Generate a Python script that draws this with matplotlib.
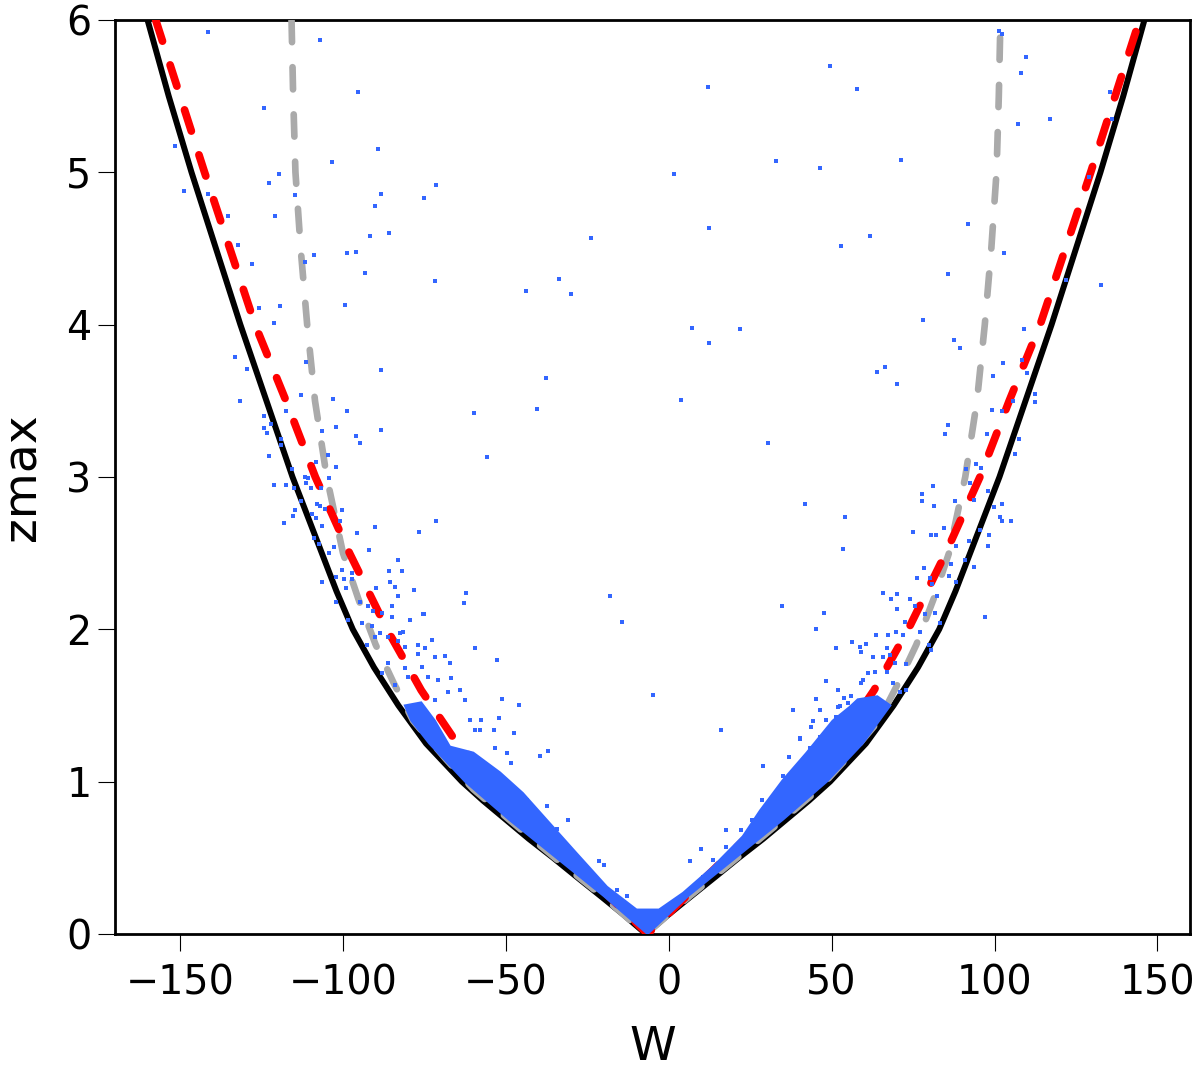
import matplotlib
matplotlib.use("Agg")
import matplotlib.pyplot as plt

plt.rcParams['font.family'] = ['DejaVu Sans']
plt.rcParams['lines.scale_dashes'] = False

# boundary curves (both branches listed from the top down to the cusp)
black_z = [6.0, 5.5, 5.0, 4.5, 4.0, 3.75, 3.5, 3.25, 3.0, 2.75, 2.5, 2.25, 2.0, 1.75, 1.5,
           1.25, 1.125, 1.0, 0.875, 0.75, 0.625, 0.5, 0.375, 0.25, 0.125, 0.0]
black_w_left = [-160, -153.5, -146.5, -139, -131.5, -127.5, -123.5, -119.5, -115.5, -111, -106.5,
                -102, -97, -90.5, -83, -74.5, -69, -63.5, -57, -50, -43, -35.5, -28.3, -21, -13.8, -7]
black_w_right = [146, 139.5, 132.5, 125, 117.5, 113.5, 109.5, 105.5, 101.5, 97, 92.5,
                 88, 83, 76.5, 69, 60.5, 55, 49.5, 43, 36, 29, 21.5, 14.3, 7, -0.2, -7]

red_z = [6.0, 5.0, 4.0, 3.5, 3.0, 2.5, 2.0, 1.6, 1.3, 1.0, 0.75, 0.5, 0.25, 0.0]
red_w_left = [-157.5, -142.5, -127, -117.5, -108.5, -98, -86.5, -76, -66.5, -54, -42.5, -30.5, -18.5, -6.5]
red_w_right = [144.5, 129.5, 114, 104.5, 95.5, 85, 73.5, 63, 53.5, 41, 29.5, 17.5, 5.5, -6.5]

gray_z = [6.0, 5.5, 5.0, 4.5, 4.0, 3.5, 3.0, 2.5, 2.2, 1.9, 1.65, 1.4, 1.15, 0.95, 0.75, 0.5, 0.25, 0.0]
gray_w_left = [-115.8, -115.3, -114.6, -113, -111, -108.6, -105, -100, -95.3, -90, -84.5, -78.5, -68.5, -60, -49, -35, -20.5, -7]
gray_w_right = [101.8, 101.3, 100.6, 99, 97, 94.6, 91, 86, 81.3, 76, 70.5, 64.5, 54.5, 46, 35, 21, 6.5, -7]

# outline of the densely packed part of the sample near the cusp
band_w = [-6.5, -20, -34.5, -49, -62.5, -73.5, -79, -81, -76, -71.8, -67.2, -60, -51.8, -44.8,
          -37.5, -28.3, -19, -9.9, -3, 4.4, 13.5, 22.7, 28, 35, 42.3, 50.3, 55.5, 58, 64, 68,
          59.5, 48.5, 35, 20.5, 6, -6.5]
band_z = [0.0, 0.25, 0.5, 0.75, 1.0, 1.25, 1.4, 1.5, 1.52, 1.40, 1.23, 1.19, 1.06, 0.925,
          0.75, 0.53, 0.31, 0.16, 0.16, 0.27, 0.44, 0.64, 0.81, 1.01, 1.19, 1.40, 1.49, 1.54, 1.56, 1.5,
          1.25, 1.0, 0.75, 0.5, 0.25, 0.0]

# individual stars outside the dense band
star_w = [
    # upper left
    -141.5, -107, -95.3, -124.4, -151.5, -89.2, -103.3, -119.5, -122.7, -148.7, -141.3, -114.6,
    -88.3, -90.2, -135.4, -120.8, -85.9, -91.6, -132.1, -108.9, -111.6, -98.7, -96, -127.8,
    -93.1, -125.9, -119.3, -99.5, -121.3,
    # upper middle
    49.4, 12, 33, 46.5, 1.5, -71.6, -75.2, 12.3, -24, 52.8, -71.7, -33.6, -43.8, -29.9, 7, 21.9,
    12.3, -37.6, -59.8, -40.6, 3.8, -55.8, 30.6, 41.9, 54, 53.4, -71.6, -76.7, -81.9, -78.3,
    -62.1, -62.8, -75.2, -17.9, 34.6, 47.5,
    # upper right
    57.9, 71.2, 61.9, 91.7, 102.9, 85.7, 78, 87.5, 108.9, 101.3, 102.4, 109.8, 108.2, 107.2,
    117, 135.3, 136.1, 129, 122, 132.8,
    # middle right
    89.4, 63.9, 66.5, 70.1, 102.7, 108.5, 109.9, 99.6, 112.5, 112.4, 105.8, 99.3, 102.2, 85.8,
    84.7, 97.8, 107.5, 106.2, 94.2, 91.2, 95.8, 92.5, 81, 77.7, 77.8, 81.4, 87.9, 93.8, 97.9,
    99.8, 102.4, 101.8, 102.4, 104.9, 75.1, 80.6, 82, 84.6, 92.1, 95.4, 98.2, 98.1, 93.8, 91,
    88.1, 86.5, 78.3, 76.2, 80.2, 80.8, 85.9, 88.2, 65.6, 68.2, 70.2, 74.1, 82.4, 70.2, 75.5,
    97.1, 72.6, 77.2, 78.5, 81.6, 83.2, 63.5, 60.6, 56.2, 67.2, 69.6, 71.9,
    # lower right
    58.6, 59.1, 62.7, 67, 65.7, 67.8, 80.6, 79.8, 61.2, 63.2, 67, 69.5, 72.9, 58.9, 59.6, 68.8,
    72.9, 70.9, 53.8, 56, 46.3, 52.5, 55, 64.7, 62.2, 44.3, 48.4, 51.4, 40.2,
    # middle left
    -133.3, -129.5, -131.6, -111.4, -88.4, -112.9, -103.1, -98.8, -117.4, -102.1, -88.2, -124.2,
    -122.2, -124.4, -123.3, -106.6, -118.9, -119.1, -95.9, -94.7, -122.6, -104.6, -108.4, -102,
    -115.7, -111.8, -110.6, -111.4, -104.2, -121.3, -117.6, -115, -109.8, -106.8, -113, -108.1,
    -107.1, -105.6, -100.3, -114.7, -118.2, -115.3, -109.4, -108.2, -106.5, -100.8, -90.3, -95.6,
    -109, -107.4, -104.2, -102.9, -92, -83, -85.9, -106.3, -102, -100.4, -99.8, -97.3, -99, -97.3,
    -89.9, -85.7, -84, -83, -102.1, -98.4, -94.8, -92.2, -90.7, -85, -88.1, -85, -79.4, -75.3,
    -94.3, -91.2, -81.5, -72.8, -92.7, -90.2, -86.1, -83, -81, -76.9,
    # lower left
    -52, -53.7, -88.7, -82.5, -74.8, -76.9, -71.8, -68.7, -67.2, -75.9, -81, -86.1, -88.1, -84,
    -80, -73.8, -70.7, -66.7, -64.1, -62.6, -67.7, -71.8, -57.5, -59.5, -53.4, -49.8, -48.3, -61,
    -58, -43.6, -39.6, -34.4, -16,
    # centre
    -14.3, -5, 15.9, 45.3, 51.4, -59.5, -52.7, -51.3, -46, -47.5, -39.4, -37.1, -37.5, -31, -21.5,
    -19.9, -12.9, 6.4, 9.9, 17.7, 22.1, 28.9, 28.7, 38.1, 48.4, 45.3, 51.9, 36.9, 35.1, 40.2, 43.8,
    46.3, 49.4, 52, 53.5, 52.5, 43.3, 33, 31, 25.4, 17.7, 13.6, 10.5,
]
star_z = [
    5.92, 5.87, 5.53, 5.42, 5.17, 5.15, 5.07, 4.99, 4.93, 4.88, 4.86, 4.85,
    4.86, 4.78, 4.71, 4.71, 4.60, 4.58, 4.52, 4.455, 4.41, 4.47, 4.48, 4.40,
    4.34, 4.11, 4.12, 4.13, 4.01,
    5.70, 5.56, 5.075, 5.03, 4.99, 4.915, 4.83, 4.636, 4.568, 4.515, 4.284, 4.30, 4.22, 4.20, 3.98, 3.97,
    3.88, 3.65, 3.42, 3.445, 3.505, 3.13, 3.22, 2.82, 2.74, 2.53, 2.71, 2.64, 2.38, 2.255,
    2.24, 2.17, 2.10, 2.22, 2.15, 2.11,
    5.55, 5.08, 4.58, 4.66, 4.47, 4.33, 4.03, 3.90, 3.97, 5.93, 5.905, 5.76, 5.65, 5.32,
    5.35, 5.53, 5.35, 4.97, 4.29, 4.26,
    3.845, 3.69, 3.72, 3.61, 3.75, 3.77, 3.68, 3.66, 3.545, 3.49, 3.50, 3.44, 3.43, 3.34,
    3.28, 3.285, 3.25, 3.15, 3.085, 3.05, 3.06, 2.96, 2.94, 2.89, 2.84, 2.81, 2.84, 2.85, 2.91,
    2.80, 2.82, 2.74, 2.71, 2.71, 2.64, 2.62, 2.62, 2.665, 2.58, 2.65, 2.62, 2.55, 2.41, 2.455,
    2.55, 2.43, 2.405, 2.335, 2.335, 2.30, 2.35, 2.31, 2.24, 2.20, 2.235, 2.20, 2.22, 2.13, 2.15,
    2.08, 2.05, 1.98, 2.10, 2.11, 2.04, 1.96, 1.905, 1.915, 1.96, 1.985, 1.96,
    1.886, 1.85, 1.815, 1.88, 1.815, 1.83, 1.864, 1.90, 1.715, 1.72, 1.72, 1.78, 1.775, 1.645, 1.667, 1.645,
    1.60, 1.59, 1.547, 1.56, 1.47, 1.497, 1.514, 1.514, 1.47, 1.40, 1.405, 1.427, 1.28,
    3.79, 3.71, 3.50, 3.755, 3.70, 3.535, 3.51, 3.43, 3.43, 3.33, 3.31, 3.40,
    3.345, 3.32, 3.29, 3.30, 3.25, 3.21, 3.27, 3.22, 3.14, 3.145, 3.095, 3.065,
    3.05, 3.00, 2.99, 2.96, 2.99, 2.95, 2.95, 2.93, 2.93, 2.93, 2.845, 2.82,
    2.81, 2.79, 2.78, 2.78, 2.70, 2.745, 2.76, 2.73, 2.68, 2.71, 2.67, 2.63,
    2.60, 2.56, 2.50, 2.54, 2.52, 2.455, 2.385, 2.31, 2.345, 2.39, 2.33, 2.37, 2.27, 2.33,
    2.27, 2.31, 2.28, 2.22, 2.18, 2.06, 2.18, 2.15, 2.12, 2.15, 2.105, 2.08, 2.06, 2.10,
    2.04, 2.02, 1.985, 1.93, 1.90, 1.95, 1.95, 1.92, 1.886, 1.90,
    1.42, 1.34, 1.975, 1.975, 1.875, 1.84, 1.82, 1.825, 1.78, 1.755, 1.745, 1.78, 1.71, 1.635,
    1.69, 1.69, 1.667, 1.68, 1.60, 1.536, 1.59, 1.536, 1.405, 1.34, 1.22, 1.186, 1.12, 1.405,
    1.34, 0.88, 0.75, 0.69, 0.29,
    2.05, 1.57, 1.34, 2.0, 1.88, 1.88, 1.80, 1.54, 1.50, 1.32, 1.17, 1.20, 0.84, 0.75, 0.48,
    0.455, 0.25, 0.48, 0.556, 0.68, 0.68, 1.105, 0.88, 1.47, 1.66, 1.54, 1.60, 1.16, 1.04, 1.285, 1.36,
    1.295, 1.36, 1.49, 1.405, 1.23, 1.22, 0.92, 0.835, 0.75, 0.57, 0.485, 0.376,
]

blue = '#3366ff'

fig = plt.figure(figsize=(12, 10.68), dpi=100)
ax = fig.add_axes([0.0958, 0.1255, 0.8959, 0.8558])

# curves: left branch down to the cusp, then right branch back up
ax.plot(black_w_left + black_w_right[::-1], black_z + black_z[::-1],
        color='black', lw=4.3, zorder=2)
ax.plot(gray_w_left + gray_w_right[::-1], gray_z + gray_z[::-1], color='#aaaaaa', lw=4.8,
        dashes=(16, 18), dash_capstyle='round', zorder=3)
ax.plot(red_w_left + red_w_right[::-1], red_z + red_z[::-1], color='red', lw=5.6,
        dashes=(16, 18), dash_capstyle='round', zorder=4)

# stars
ax.fill(band_w, band_z, color=blue, lw=1.5, zorder=5)
ax.scatter(star_w, star_z, marker='s', s=5, color=blue, linewidths=0, zorder=6)

ax.set_xlim(-170, 160)
ax.set_ylim(0, 6)
ax.set_xticks([-150, -100, -50, 0, 50, 100, 150])
ax.set_yticks([0, 1, 2, 3, 4, 5, 6])
for s in ax.spines.values():
    s.set_linewidth(2)
ax.tick_params(axis='both', direction='out', length=12, width=0.8, labelsize=28.5)
ax.tick_params(axis='x', pad=9)
ax.tick_params(axis='y', pad=5)
ax.set_xlabel('W', fontsize=34, labelpad=16)
ax.set_ylabel('zmax', fontsize=34, labelpad=15)

fig.savefig('out.png', dpi=100)
